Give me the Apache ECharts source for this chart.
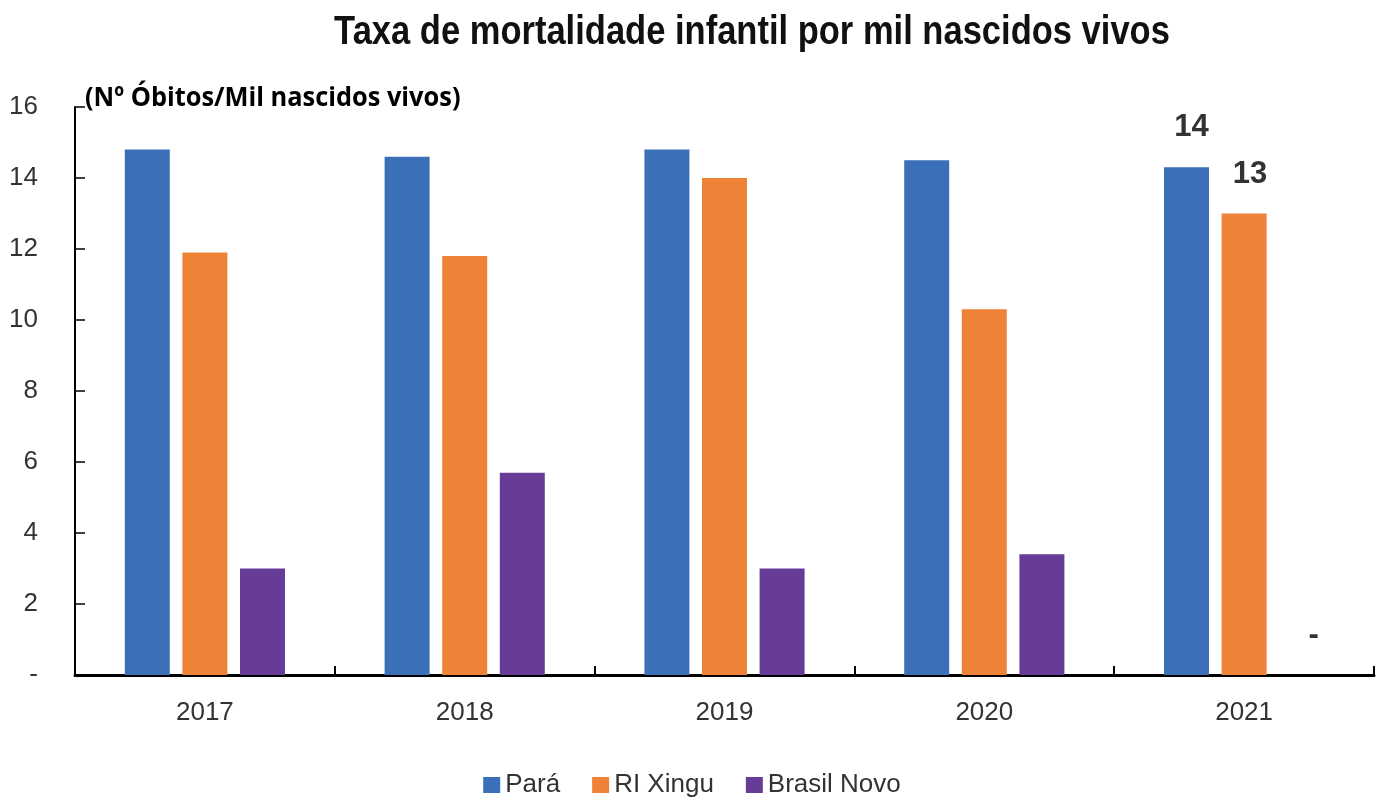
<!DOCTYPE html>
<html>
<head>
<meta charset="utf-8">
<script src="https://cdn.jsdelivr.net/npm/echarts@6/dist/echarts.min.js"></script>
<style>
html,body{margin:0;padding:0;background:#fff;}
#chart{width:1384px;height:806px;}
</style>
</head>
<body>
<div id="chart"></div>
<script>
const categories = ['2017', '2018', '2019', '2020', '2021'];
const seriesNames = ['Pará', 'RI Xingu', 'Brasil Novo'];
const para = [14.8, 14.6, 14.8, 14.5, 14.3];
const riXingu = [11.9, 11.8, 14.0, 10.3, 13.0];
const brasilNovo = [3.0, 5.7, 3.0, 3.4, 0];
const yTicks = [0, 2, 4, 6, 8, 10, 12, 14, 16];
const labeledIndex = 4;

const colors = ['#3B6FB8', '#EE8236', '#673C97'];
const labelOffsets = [[5, 0], [6, 0], [12, 0]];
const sans = '"Liberation Sans", Arial, sans-serif';

function makeData(arr) {
  return arr.map((v, i) => i === labeledIndex
    ? { value: v, label: { show: true } }
    : { value: v });
}

const chart = echarts.init(document.getElementById('chart'));
chart.setOption({
  animation: false,
  color: colors,
  graphic: [{
    type: 'text', x: 752, y: 12, scaleX: 0.842,
    style: {
      text: 'Taxa de mortalidade infantil por mil nascidos vivos',
      font: 'bold 41px "Liberation Sans", Arial, sans-serif',
      fill: '#111', textAlign: 'center', textVerticalAlign: 'top'
    }
  }, {
    type: 'text', x: 85, y: 85, scaleX: 0.94,
    style: {
      text: '(Nº Óbitos/Mil nascidos vivos)',
      font: 'bold 27px "Open Sans", sans-serif',
      fill: '#000', textAlign: 'left', textVerticalAlign: 'top'
    }
  }],
  legend: {
    bottom: 3, left: 'center',
    itemWidth: 17, itemHeight: 16, itemGap: 32,
    icon: 'rect',
    textStyle: { fontFamily: sans, fontSize: 26, color: '#333' },
    data: seriesNames
  },
  grid: { left: 75, right: 10, top: 107, bottom: 131 },
  xAxis: {
    type: 'category', data: categories,
    axisLine: { lineStyle: { color: '#000', width: 3 } },
    axisTick: { show: true, inside: true, length: 9, lineStyle: { color: '#000', width: 2 } },
    axisLabel: { fontFamily: sans, fontSize: 26, color: '#333', margin: 25 }
  },
  yAxis: {
    type: 'value', min: 0, max: 16, interval: 2,
    splitLine: { show: false },
    axisLine: { show: true, lineStyle: { color: '#000', width: 2 } },
    axisTick: { show: true, inside: true, length: 10, lineStyle: { color: '#000', width: 1.5 } },
    axisLabel: {
      fontFamily: sans, fontSize: 26, color: '#333', margin: 37,
      formatter: v => (yTicks.includes(v) ? (v === 0 ? '-' : String(v)) : '')
    }
  },
  series: [para, riXingu, brasilNovo].map((arr, k) => ({
    name: seriesNames[k], type: 'bar',
    data: makeData(arr),
    barWidth: 45, barGap: '28%',
    label: {
      show: false, position: 'top', distance: 24, offset: labelOffsets[k],
      fontFamily: sans, fontWeight: 'bold', fontSize: 31, color: '#333',
      formatter: p => (p.value === 0 ? '-' : Math.round(p.value).toString())
    }
  }))
});
</script>
</body>
</html>
